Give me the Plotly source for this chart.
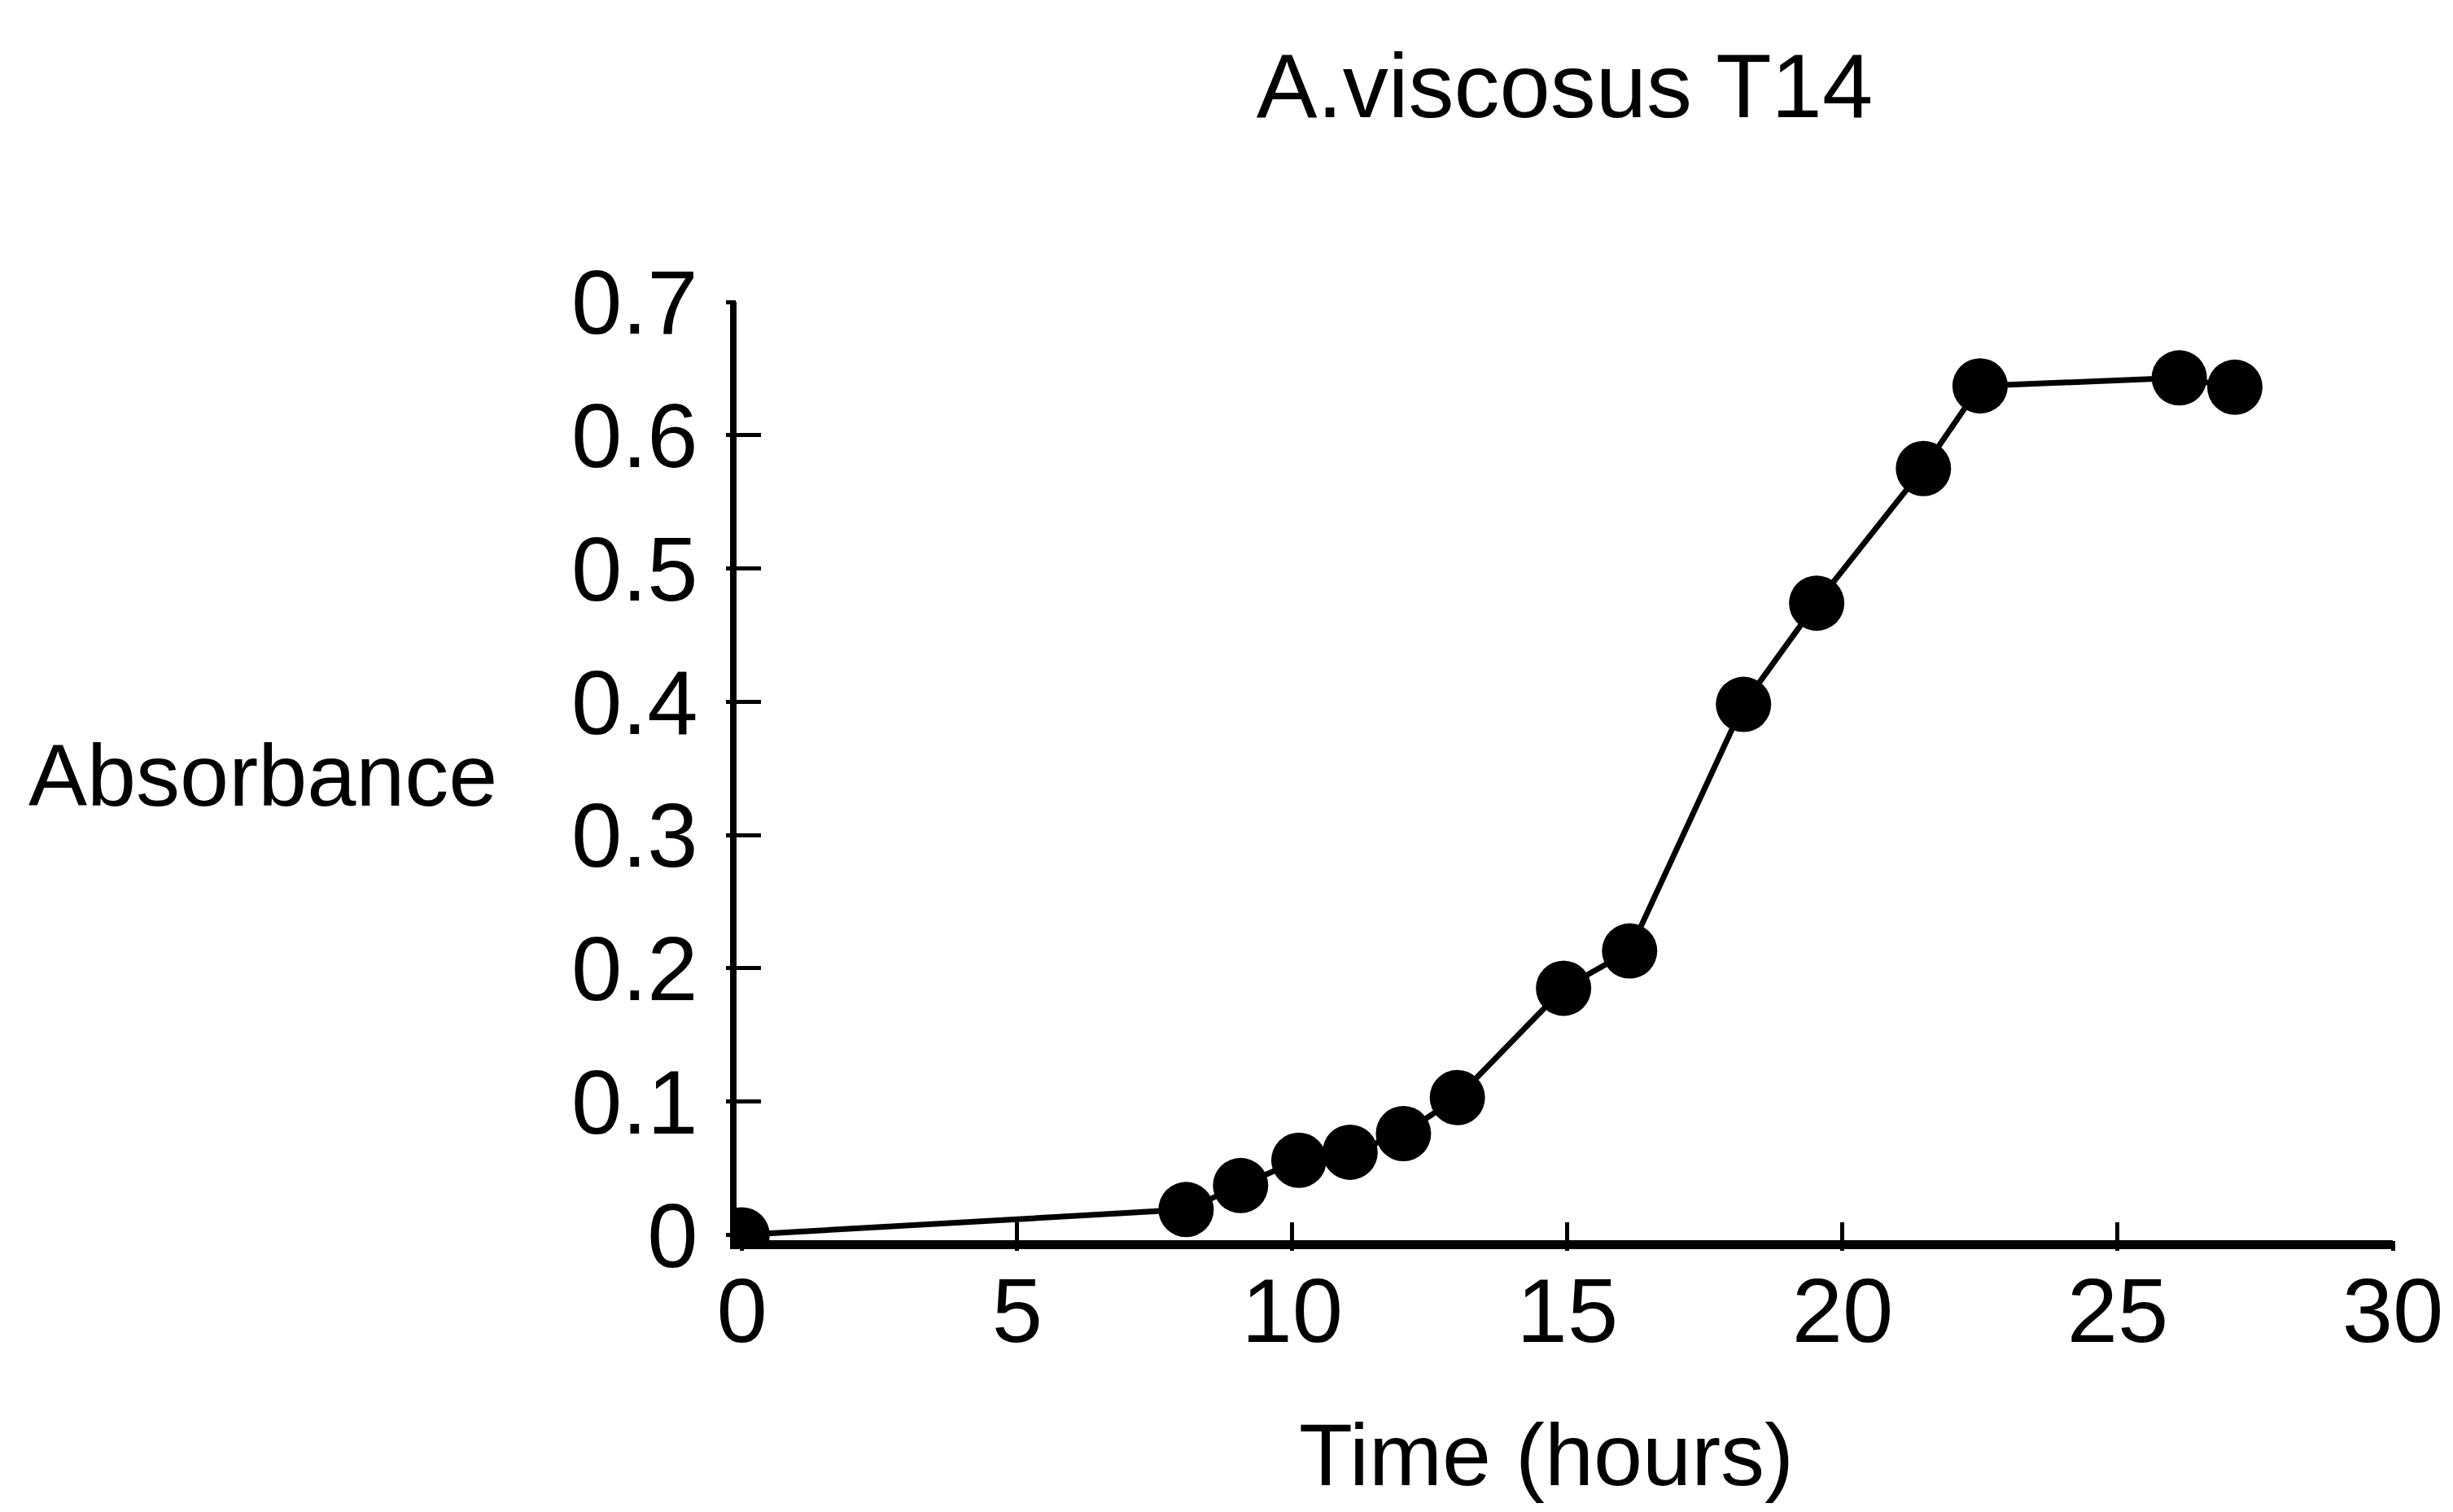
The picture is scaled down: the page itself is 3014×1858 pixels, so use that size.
import plotly.graph_objects as go

# Data
time_hours = [0, 8.07, 9.06, 10.12, 11.05, 12.02, 13.0, 14.93, 16.13, 18.2, 19.53, 21.47, 22.5, 26.12, 27.13]
absorbance = [0, 0.019, 0.037, 0.056, 0.062, 0.076, 0.103, 0.185, 0.213, 0.398, 0.474, 0.575, 0.637, 0.643, 0.636]

x_ticks = [0, 5, 10, 15, 20, 25, 30]
y_ticks = [0, 0.1, 0.2, 0.3, 0.4, 0.5, 0.6, 0.7]
y_tick_labels = ["0", "0.1", "0.2", "0.3", "0.4", "0.5", "0.6", "0.7"]

title_text = "A.viscosus T14"
x_title = "Time (hours)"
y_title = "Absorbance"

FONT = "Liberation Sans"
W, H = 3014, 1858
L, R, T, B = 905, 70, 371, 334

X_RANGE = [-0.1, 30]
Y_RANGE = [-0.004, 0.7]

fig = go.Figure()
fig.add_trace(go.Scatter(
    x=time_hours, y=absorbance, mode="lines+markers",
    line=dict(color="black", width=7),
    marker=dict(symbol="circle", size=68, color="black"),
    showlegend=False, hoverinfo="skip",
))
# invisible trace on overlay axes (used for crossing tick marks)
fig.add_trace(go.Scatter(
    x=time_hours, y=absorbance, mode="lines", xaxis="x2", yaxis="y2",
    line=dict(color="rgba(0,0,0,0)", width=0),
    showlegend=False, hoverinfo="skip",
))

fig.update_layout(
    width=W, height=H,
    margin=dict(l=L, r=R, t=T, b=B, pad=0),
    paper_bgcolor="white", plot_bgcolor="white",
    font=dict(family=FONT, color="black", size=112),
    title=dict(text=title_text, x=0.5, xref="paper", y=1 - 105 / H, yref="container",
               xanchor="center", yanchor="middle", font=dict(size=112, family=FONT, color="black")),
    xaxis=dict(range=X_RANGE, tickmode="array", tickvals=x_ticks, ticktext=[str(v) for v in x_ticks],
               showgrid=False, zeroline=False, showline=True, linecolor="black", linewidth=11,
               ticks="inside", ticklen=22, tickwidth=5, tickcolor="black",
               tickfont=dict(size=112, family=FONT), ticklabelstandoff=-20),
    yaxis=dict(range=Y_RANGE, tickmode="array", tickvals=y_ticks, ticktext=y_tick_labels,
               showgrid=False, zeroline=False, showline=True, linecolor="black", linewidth=8,
               ticks="inside", ticklen=30, tickwidth=5, tickcolor="black",
               tickfont=dict(size=112, family=FONT), ticklabelstandoff=17),
    xaxis2=dict(range=X_RANGE, overlaying="x", anchor="y2", side="bottom",
                tickmode="array", tickvals=x_ticks, showticklabels=False,
                showgrid=False, zeroline=False, showline=False,
                ticks="outside", ticklen=12, tickwidth=5, tickcolor="black"),
    yaxis2=dict(range=Y_RANGE, overlaying="y", anchor="x2", side="left",
                tickmode="array", tickvals=y_ticks, showticklabels=False,
                showgrid=False, zeroline=False, showline=False,
                ticks="outside", ticklen=12, tickwidth=5, tickcolor="black"),
)

fig.add_annotation(text=y_title, xref="paper", yref="paper", x=(322 - L) / (W - L - R),
                   y=0.496, xanchor="center", yanchor="middle", showarrow=False,
                   font=dict(size=108, family=FONT, color="black"))
fig.add_annotation(text=x_title, xref="paper", yref="paper", x=0.489,
                   y=-0.2286, xanchor="center", yanchor="middle", showarrow=False,
                   font=dict(size=108, family=FONT, color="black"))

fig.write_html("out.html")
